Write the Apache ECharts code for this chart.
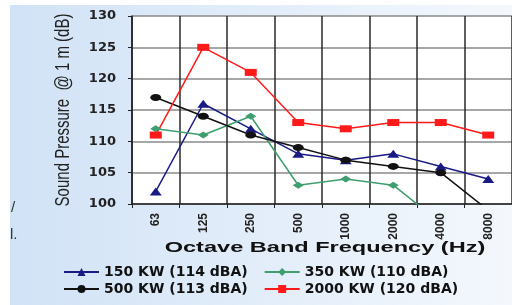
<!DOCTYPE html>
<html><head><meta charset="utf-8">
<script src="https://cdn.jsdelivr.net/npm/echarts@6/dist/echarts.min.js"></script>
<style>html,body{margin:0;padding:0;background:#fff;} #c{width:512px;height:305px;}</style>
</head><body><div id="c"></div>
<script>
const categories = ['63','125','250','500','1000','2000','4000','8000'];
const seriesNames = ['150 KW (114 dBA)','350 KW (110 dBA)','500 KW (113 dBA)','2000 KW (120 dBA)'];
const kw150 = [102,116,112,108,107,108,106,104];
const kw350 = [112,111,114,103,104,103,97,null];
const kw500 = [117,114,111,109,107,106,105,99];
const kw2000 = [111,125,121,113,112,113,113,111];
const yMin = 100, yMax = 130, yStep = 5;
const yTitle = 'Sound Pressure  @ 1 m (dB)';
const xTitle = 'Octave Band Frequency (Hz)';

const chart = echarts.init(document.getElementById('c'));
const legendText = {fontFamily:'DejaVu Sans', fontWeight:'bold', fontSize:14, color:'#111'};
function mk(name, data, symbol, size, color){
  return {name, type:'line', data, symbol, symbolSize:size, clip:true,
    lineStyle:{color, width:1.5}, itemStyle:{color}, emphasis:{disabled:true}};
}
chart.setOption({
  animation:false,
  backgroundColor:{type:'linear',x:0,y:0,x2:1,y2:0,colorStops:[{offset:0,color:'#d0e2f6'},{offset:1,color:'#f4f8fd'}]},
  grid:{left:132, top:16, width:388, height:188, show:true, backgroundColor:'#ffffff', borderWidth:0},
  xAxis:{type:'category', data:categories, boundaryGap:true,
    axisLine:{lineStyle:{color:'#222', width:1.5}},
    axisTick:{show:true, length:4, lineStyle:{color:'#222'}},
    axisLabel:{rotate:90, margin:9, fontFamily:'Liberation Sans', fontWeight:'bold', fontSize:12, color:'#222'},
    splitLine:{show:true, lineStyle:{color:'#2a2a2a', width:1.5}}},
  yAxis:{type:'value', min:yMin, max:yMax, interval:yStep,
    axisLine:{show:true, lineStyle:{color:'#222', width:1.5}},
    axisTick:{show:true, length:4, lineStyle:{color:'#222'}},
    axisLabel:{margin:16, fontFamily:'DejaVu Sans', fontWeight:'bold', fontSize:13, color:'#222'},
    splitLine:{lineStyle:{color:'#8a8a8a', width:1.5}}},
  legend:[
    {data:[seriesNames[0],seriesNames[1]], left:58, top:260, itemWidth:35, itemHeight:10, itemGap:16, textStyle:legendText},
    {data:[seriesNames[2],seriesNames[3]], left:58, top:277, itemWidth:35, itemHeight:10, itemGap:16, textStyle:legendText}
  ],
  graphic:[
    {type:'rect', shape:{x:0,y:0,width:10,height:305}, style:{fill:'#ffffff'}, silent:true},
    {type:'rect', shape:{x:0,y:0,width:512,height:5}, style:{fill:'#ffffff'}, silent:true},
    {type:'text', x:63, y:110, rotation:Math.PI/2, scaleY:1.4,
      style:{text:yTitle, fontFamily:'Liberation Sans', fontSize:15, fill:'#222', align:'center', verticalAlign:'middle'}},
    {type:'text', x:325, y:248, scaleX:1.57,
      style:{text:xTitle, fontFamily:'Liberation Sans', fontWeight:'bold', fontSize:15, fill:'#111', align:'center', verticalAlign:'middle'}},
    {type:'text', x:11, y:208, style:{text:'/', fontFamily:'Liberation Sans', fontSize:15, fill:'#333', align:'left', verticalAlign:'middle'}},
    {type:'text', x:10, y:235, style:{text:'l.', fontFamily:'Liberation Sans', fontSize:15, fill:'#333', align:'left', verticalAlign:'middle'}}
  ],
  series:[
    mk(seriesNames[0], kw150, 'triangle', [12,8], '#1a1a85'),
    mk(seriesNames[1], kw350, 'diamond', [11,7], '#3e9e6e'),
    mk(seriesNames[2], kw500, 'circle', [11,7], '#111111'),
    mk(seriesNames[3], kw2000, 'rect', [12,7], '#ff1a1a')
  ]
});
</script></body></html>
